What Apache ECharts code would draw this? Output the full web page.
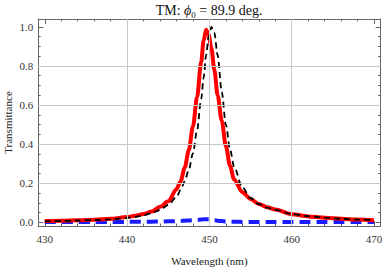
<!DOCTYPE html>
<html><head><meta charset="utf-8">
<script src="https://cdn.jsdelivr.net/npm/echarts@6/dist/echarts.min.js"></script>
<style>html,body{margin:0;padding:0;background:#fff}#c{width:382px;height:267px}</style>
</head><body><div id="c"></div>
<script>
// ---- data ----
const wavelength = [430,432,434,436,438,440,441,442,443,444,445,446,446.5,447,447.5,448,448.5,449,449.3,449.6,449.9,450.25,450.6,451,451.5,452,452.5,453,454,455,456,457,458,460,462,464,466,468,470];
const redT   = [0.007,0.0085,0.011,0.014,0.019,0.028,0.034,0.043,0.056,0.08,0.108,0.17,0.21,0.28,0.37,0.49,0.64,0.82,0.93,0.985,0.96,0.89,0.78,0.65,0.52,0.39,0.29,0.22,0.155,0.12,0.095,0.078,0.066,0.042,0.031,0.024,0.019,0.015,0.012];
const blackT = [0.006,0.0075,0.0095,0.012,0.016,0.024,0.029,0.037,0.048,0.064,0.09,0.13,0.165,0.21,0.27,0.353,0.471,0.631,0.74,0.855,0.948,1.0,0.97,0.855,0.667,0.5,0.374,0.284,0.18,0.125,0.094,0.076,0.064,0.044,0.032,0.025,0.019,0.015,0.012];
const blueT  = [0.002,0.002,0.002,0.003,0.003,0.003,0.004,0.004,0.004,0.005,0.006,0.007,0.008,0.009,0.01,0.012,0.013,0.015,0.016,0.017,0.016,0.014,0.012,0.009,0.007,0.005,0.004,0.004,0.003,0.003,0.003,0.002,0.002,0.002,0.002,0.002,0.002,0.002,0.002];

const xMajorTicks = [430,440,450,460,470];
const xMinorTicks = [432,434,436,438,442,444,446,448,452,454,456,458,462,464,466,468];
const yMajorTicks = [0,0.2,0.4,0.6,0.8,1.0];
const yMinorTicks = [0.05,0.1,0.15,0.25,0.3,0.35,0.45,0.5,0.55,0.65,0.7,0.75,0.85,0.9,0.95,1.0];
const xGridLines = [440,450,460];
const yGridLines = [0.2,0.4,0.6,0.8];

const titleText = '{a|TM: }{i|ϕ}{s|0}{a| = 89.9 deg.}';
const xName = 'Wavelength (nm)';
const yName = 'Transmittance';

// ---- chart ----
const FONT = 'Liberation Serif';
const XMIN = 429.2, XMAX = 470.8, YMIN = -0.018, YMAX = 1.04;
const frameColor = '#666';

function xAx(pos, ticks, len, main, labels) {
  return {
    type: 'value', position: pos, min: XMIN, max: XMAX,
    axisLine: {show: main, onZero: false, lineStyle: {color: frameColor, width: 1}},
    axisTick: {show: true, inside: true, length: len, customValues: ticks, lineStyle: {color: frameColor, width: 1}},
    axisLabel: labels ? {show: true, customValues: ticks, fontFamily: FONT, fontSize: 11, color: '#333', margin: 7} : {show: false},
    splitLine: {show: false},
    name: labels ? xName : '', nameLocation: 'middle', nameGap: 29, nameMoveOverlap: false,
    nameTextStyle: {fontFamily: FONT, fontSize: 11, color: '#222'}
  };
}
function yAx(pos, ticks, len, main, labels) {
  return {
    type: 'value', position: pos, min: YMIN, max: YMAX,
    axisLine: {show: main, onZero: false, lineStyle: {color: frameColor, width: 1}},
    axisTick: {show: true, inside: true, length: len, customValues: ticks, lineStyle: {color: frameColor, width: 1}},
    axisLabel: labels ? {show: true, customValues: ticks, fontFamily: FONT, fontSize: 11, color: '#333', margin: 5,
      formatter: v => Number(v).toFixed(1)} : {show: false},
    splitLine: {show: false},
    name: labels ? yName : '', nameLocation: 'middle', nameGap: 25, nameMoveOverlap: false,
    nameTextStyle: {fontFamily: FONT, fontSize: 11, color: '#222'}
  };
}

const pairs = arr => wavelength.map((w, i) => [w, arr[i]]);

const chart = echarts.init(document.getElementById('c'), null, {renderer: 'svg', width: 382, height: 267});
chart.setOption({
  animation: false,
  backgroundColor: '#fff',
  grid: {left: 38.2, right: 1.4, top: 19, bottom: 41, containLabel: false, outerBoundsMode: 'none'},
  graphic: [{
    type: 'text', x: 209, y: 10,
    style: {
      text: titleText, align: 'center', verticalAlign: 'middle', fill: '#111',
      rich: {
        a: {fontFamily: FONT, fontSize: 14, lineHeight: 18, verticalAlign: 'middle', fill: '#111'},
        i: {fontFamily: FONT, fontSize: 14, fontStyle: 'italic', lineHeight: 18, verticalAlign: 'middle', fill: '#111'},
        s: {fontFamily: FONT, fontSize: 9, lineHeight: 9, verticalAlign: 'bottom', fill: '#111'}
      }
    }
  }],
  xAxis: [
    xAx('bottom', xMajorTicks, 5, true, true),
    xAx('bottom', xMinorTicks, 2.5, false, false),
    xAx('top', xMajorTicks, 5, true, false),
    xAx('top', xMinorTicks, 2.5, false, false)
  ],
  yAxis: [
    yAx('left', yMajorTicks, 5, true, true),
    yAx('left', yMinorTicks, 2.5, false, false),
    yAx('right', yMajorTicks, 5, true, false),
    yAx('right', yMinorTicks, 2.5, false, false)
  ],
  series: [
    {
      type: 'line', data: [], silent: true, z: 1,
      markLine: {
        silent: true, symbol: ['none', 'none'], label: {show: false},
        lineStyle: {color: '#c8c8c8', width: 1, type: 'solid'},
        data: xGridLines.map(v => ({xAxis: v})).concat(yGridLines.map(v => ({yAxis: v})))
      }
    },
    {type: 'line', name: 'blue', data: pairs(blueT), showSymbol: false, smooth: 0.3, smoothMonotone: 'x', z: 2,
      lineStyle: {color: '#1a1aff', width: 4, type: [11, 6]}},
    {type: 'line', name: 'red', data: pairs(redT), showSymbol: false, smooth: 0.3, smoothMonotone: 'x', z: 3,
      lineStyle: {color: '#ff0000', width: 4}},
    {type: 'line', name: 'black', data: pairs(blackT), showSymbol: false, smooth: 0.3, smoothMonotone: 'x', z: 4,
      lineStyle: {color: '#000', width: 1.8, type: [6, 4]}}
  ]
});
</script></body></html>
